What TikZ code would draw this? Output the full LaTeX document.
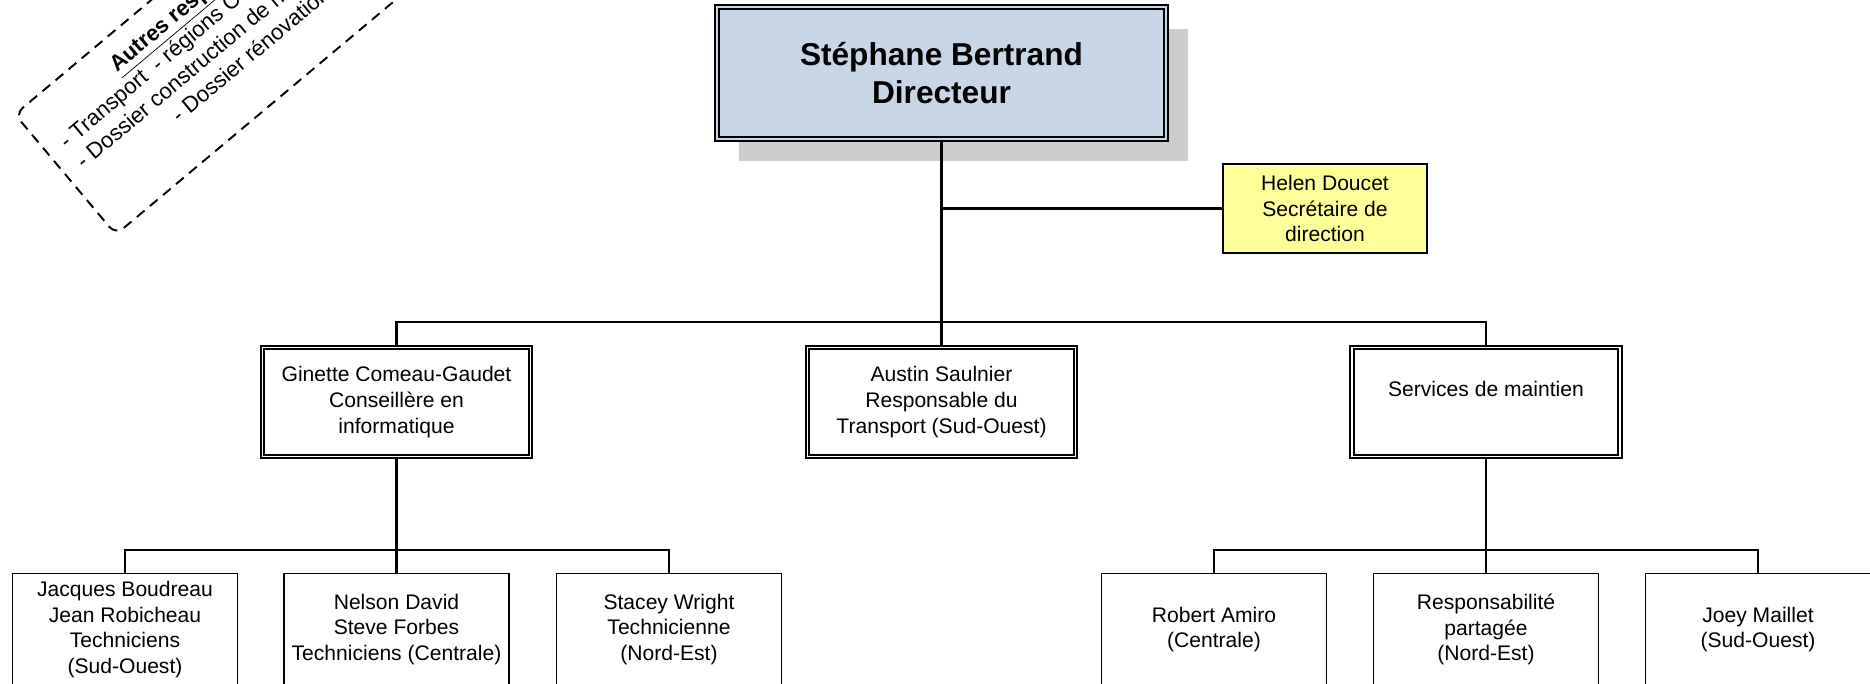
\documentclass[tikz,border=0pt]{standalone}
\usepackage{fontspec}
\setmainfont{Liberation Sans}
\usetikzlibrary{shadows}
\definecolor{dirblue}{RGB}{201,214,232}
\definecolor{secyellow}{RGB}{255,255,153}

\begin{document}
\begin{tikzpicture}[
  font=\fontsize{12}{14.6}\selectfont,
  box/.style={draw,line width=1pt,align=center,inner xsep=1pt,inner ysep=2pt},
  dbox/.style={box,double,line width=0.9pt,double distance=1.1pt,minimum width=5.36cm,minimum height=2.18cm},
  tech/.style={box,minimum width=4.5cm,minimum height=2.24cm},
  wire/.style={line width=1.3pt}
]
\useasboundingbox (0,0) rectangle (37.4,-13.68);
\clip (0,0) rectangle (37.4,-13.68);

% ---------------- direction ----------------
\node[box,double=dirblue,line width=1.1pt,double distance=1.1pt,fill=dirblue,
      minimum width=8.98cm,minimum height=2.64cm,
      font=\fontsize{18}{21.6}\selectfont\bfseries,
      drop shadow={shadow xshift=0.44cm,shadow yshift=-0.44cm,fill=black!20,opacity=1}]
     (dir) at (18.83,-1.46) {Stéphane Bertrand\\Directeur};
\node[box,fill=secyellow,minimum width=4.08cm,minimum height=1.78cm] (sec) at (26.5,-4.17)
     {Helen Doucet\\Secrétaire de\\direction};

% ---------------- other duties ----------------
\node[rotate=40,draw,line width=1.1pt,dash pattern=on 5.7pt off 4pt,rounded corners=0.2cm,
      minimum width=8.96cm,minimum height=3.14cm] (autres) at (4.74,-0.61) {};
\node[rotate=40,align=center,font=\fontsize{12.6}{15}\selectfont] (autrestxt) at (4.58,-0.40)
     {\underline{\textbf{Autres responsabilités}}\\- Transport\ \ - régions Centrale et Nord-Est\\
      - Dossier construction de nouvelles écoles\\- Dossier rénovations};

% ---------------- services ----------------
\node[dbox] (gin) at (7.93,-8.04) {Ginette Comeau-Gaudet\\Conseillère en\\informatique};
\node[dbox] (aus) at (18.83,-8.04) {Austin Saulnier\\Responsable du\\Transport (Sud-Ouest)};
\node[dbox] (serv) at (29.72,-8.04) {Services de maintien\\\mbox{}};

% ---------------- staff ----------------
\node[tech] (jac) at (2.5,-12.59) {Jacques Boudreau\\Jean Robicheau\\Techniciens\\(Sud-Ouest)};
\node[tech] (nel) at (7.93,-12.59) {Nelson David\\Steve Forbes\\Techniciens (Centrale)};
\node[tech] (sta) at (13.38,-12.59) {Stacey Wright\\Technicienne\\(Nord-Est)};
\node[tech] (rob) at (24.28,-12.59) {Robert Amiro\\(Centrale)};
\node[tech] (resp) at (29.72,-12.59) {Responsabilité\\partagée\\(Nord-Est)};
\node[tech] (joey) at (35.16,-12.59) {Joey Maillet\\(Sud-Ouest)};

% ---------------- links ----------------
\coordinate (busA) at (18.83,-6.44);
\coordinate (busL) at (7.93,-11.0);
\coordinate (busR) at (29.72,-11.0);
\draw[wire] (dir.south) -- (aus.north);
\draw[wire] (sec.west) -- (sec.west -| dir.south);
\draw[wire] (gin.north) |- (busA) -| (serv.north);
\draw[wire] (gin.south) -- (nel.north);
\draw[wire] (jac.north) |- (busL) -| (sta.north);
\draw[wire] (serv.south) -- (resp.north);
\draw[wire] (rob.north) |- (busR) -| (joey.north);
\end{tikzpicture}
\end{document}
